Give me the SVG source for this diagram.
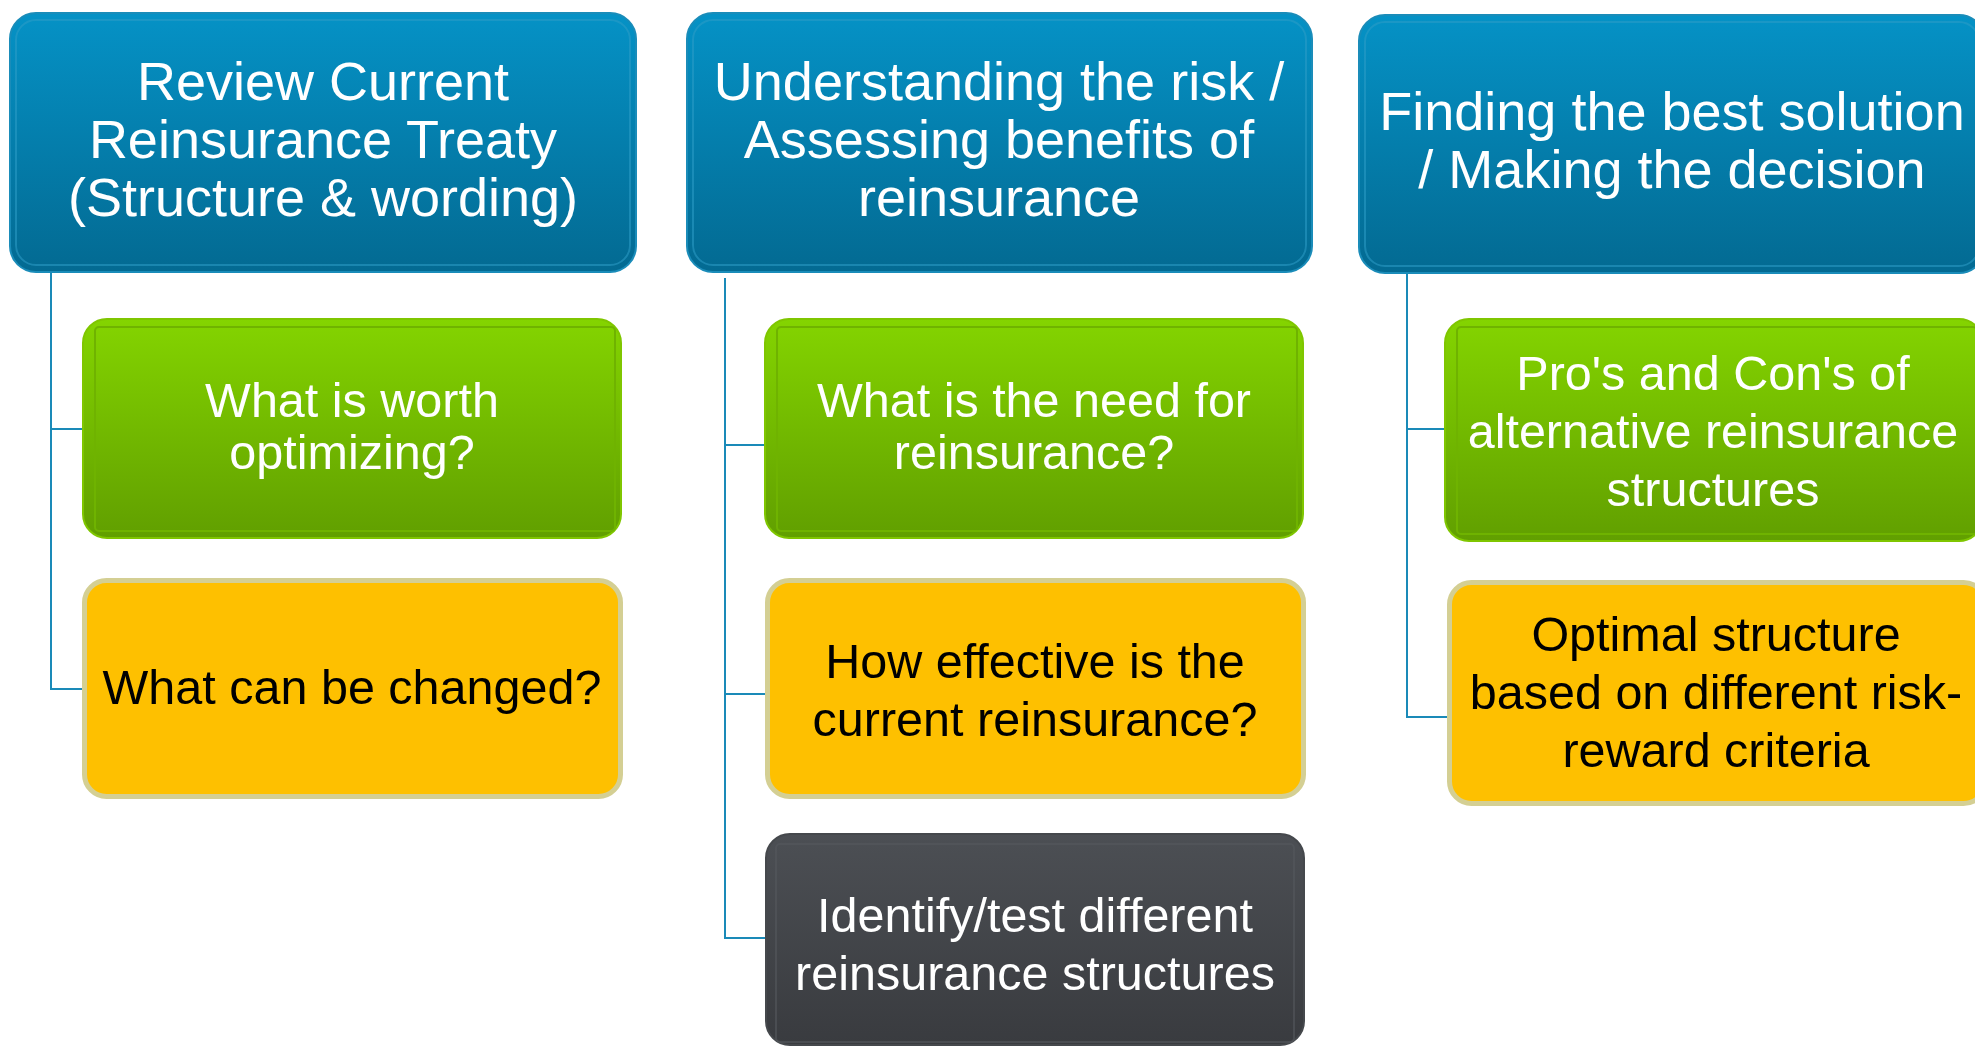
<svg xmlns="http://www.w3.org/2000/svg" width="1975" height="1047" viewBox="0 0 1975 1047">
  <defs>
    <linearGradient id="gBlue" x1="0" y1="0" x2="0" y2="1">
      <stop offset="0" stop-color="#0592C6"/>
      <stop offset="1" stop-color="#036A92"/>
    </linearGradient>
    <linearGradient id="gGreen" x1="0" y1="0" x2="0" y2="1">
      <stop offset="0" stop-color="#84D400"/>
      <stop offset="1" stop-color="#619F00"/>
    </linearGradient>
    <linearGradient id="gDark" x1="0" y1="0" x2="0" y2="1">
      <stop offset="0" stop-color="#4C4F54"/>
      <stop offset="1" stop-color="#393B3F"/>
    </linearGradient>
    <style>
      .hdr { fill: url(#gBlue); stroke: #1A8CB9; stroke-width: 2; }
      .hdr-in { fill: none; stroke: #2E9CC6; stroke-opacity: 0.55; stroke-width: 2; }
      .grn { fill: url(#gGreen); stroke: #7FC600; stroke-width: 2; }
      .grn-in { fill: none; stroke: #6FB300; stroke-width: 2; }
      .ylw { fill: #FEC000; stroke: #D4CF93; stroke-width: 5; }
      .drk { fill: url(#gDark); stroke: #45484C; stroke-width: 2; }
      .drk-in { fill: none; stroke: #55585D; stroke-opacity: 0.6; stroke-width: 2; }
      .t { font-family: "Liberation Sans", Arial, sans-serif; text-anchor: middle; }
      .th { font-size: 54px; fill: #FFFFFF; }
      .tw { font-size: 48.5px; fill: #FFFFFF; }
      .tb { font-size: 48.5px; fill: #000000; }
      .conn { fill: none; stroke: #1A8AB8; stroke-width: 2; }
    </style>
  </defs>

  <rect width="1975" height="1047" fill="#FFFFFF"/>

  <!-- tree connectors -->
  <g id="connectors">
    <path class="conn" d="M51 272 V689 H82 M51 429 H83"/>
    <path class="conn" d="M725 278 V938 H766 M725 445 H765 M725 694 H765"/>
    <path class="conn" d="M1407 273 V717 H1447 M1407 429 H1445"/>
  </g>

  <!-- column 1 -->
  <g id="review-treaty">
    <rect class="hdr" x="10" y="13" width="626" height="259" rx="26"/>
    <rect class="hdr-in" x="16" y="20" width="614" height="245" rx="20"/>
    <text class="t th" x="323" y="100">Review Current</text>
    <text class="t th" x="323" y="158">Reinsurance Treaty</text>
    <text class="t th" x="323" y="216">(Structure &amp; wording)</text>
  </g>
  <g id="worth-optimizing">
    <rect class="grn" x="83" y="319" width="538" height="219" rx="24"/>
    <rect class="grn-in" x="95" y="327" width="520" height="204" rx="4"/>
    <text class="t tw" x="352" y="417">What is worth</text>
    <text class="t tw" x="352" y="469">optimizing?</text>
  </g>
  <g id="can-be-changed">
    <rect class="ylw" x="84.5" y="580.5" width="536" height="216" rx="22"/>
    <text class="t tb" x="352" y="704">What can be changed?</text>
  </g>

  <!-- column 2 -->
  <g id="understanding-risk">
    <rect class="hdr" x="687" y="13" width="625" height="259" rx="26"/>
    <rect class="hdr-in" x="693" y="20" width="613" height="245" rx="20"/>
    <text class="t th" x="999" y="100">Understanding the risk /</text>
    <text class="t th" x="999" y="158">Assessing benefits of</text>
    <text class="t th" x="999" y="216">reinsurance</text>
  </g>
  <g id="need-for-reinsurance">
    <rect class="grn" x="765" y="319" width="538" height="219" rx="24"/>
    <rect class="grn-in" x="777" y="327" width="520" height="204" rx="4"/>
    <text class="t tw" x="1034" y="417">What is the need for</text>
    <text class="t tw" x="1034" y="469">reinsurance?</text>
  </g>
  <g id="how-effective">
    <rect class="ylw" x="767.5" y="580.5" width="536" height="216" rx="22"/>
    <text class="t tb" x="1035" y="678">How effective is the</text>
    <text class="t tb" x="1035" y="736">current reinsurance?</text>
  </g>
  <g id="identify-test">
    <rect class="drk" x="766" y="834" width="538" height="211" rx="24"/>
    <rect class="drk-in" x="776" y="844" width="518" height="198" rx="4"/>
    <text class="t tw" x="1035" y="932">Identify/test different</text>
    <text class="t tw" x="1035" y="990">reinsurance structures</text>
  </g>

  <!-- column 3 -->
  <g id="best-solution">
    <rect class="hdr" x="1359" y="15" width="626" height="258" rx="26"/>
    <rect class="hdr-in" x="1365" y="22" width="614" height="244" rx="20"/>
    <text class="t th" x="1672" y="130">Finding the best solution</text>
    <text class="t th" x="1672" y="188">/ Making the decision</text>
  </g>
  <g id="pros-cons">
    <rect class="grn" x="1445" y="319" width="538" height="222" rx="24"/>
    <rect class="grn-in" x="1457" y="327" width="520" height="207" rx="4"/>
    <text class="t tw" x="1713" y="390">Pro's and Con's of</text>
    <text class="t tw" x="1713" y="448">alternative reinsurance</text>
    <text class="t tw" x="1713" y="506">structures</text>
  </g>
  <g id="optimal-structure">
    <rect class="ylw" x="1449.5" y="582.5" width="536" height="221" rx="22"/>
    <text class="t tb" x="1716" y="651">Optimal structure</text>
    <text class="t tb" x="1716" y="709">based on different risk-</text>
    <text class="t tb" x="1716" y="767">reward criteria</text>
  </g>
</svg>
